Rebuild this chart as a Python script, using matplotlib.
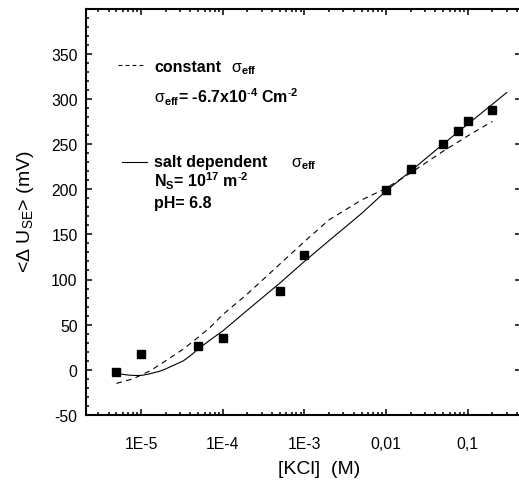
import numpy as np
import matplotlib
matplotlib.use("Agg")
import matplotlib.pyplot as plt
from matplotlib.lines import Line2D
from matplotlib.ticker import LogLocator, MultipleLocator, NullFormatter

# measured surface potential vs. salt concentration
conc = [5e-6, 1e-5, 5e-5, 1e-4, 5e-4, 1e-3, 1e-2, 2e-2, 5e-2, 7.5e-2, 1e-1, 2e-1]
du_se = [-2, 17, 26, 35, 87, 127, 199, 222, 250, 264, 275, 288]

# model: constant sigma_eff (dashed)
const_x = [5e-6, 8e-6, 1.3e-5, 2e-5, 3.3e-5, 5e-5, 7e-5, 1e-4, 2e-4, 5e-4, 1e-3,
           2e-3, 5e-3, 1e-2, 2e-2, 5e-2, 0.1, 0.2]
const_y = [-15, -10, -1, 10, 23, 36, 47, 61, 84, 117, 142,
           166, 188, 201, 218, 242, 259, 275]

# model: salt dependent sigma_eff (solid)
salt_x = [5e-6, 6e-6, 7e-6, 8.5e-6, 1e-5, 1.2e-5, 1.4e-5, 1.7e-5, 2e-5, 2.5e-5, 3.3e-5,
          4e-5, 5e-5, 7e-5, 1e-4, 2e-4, 5e-4, 1e-3, 2e-3, 5e-3, 1e-2, 2e-2, 5e-2,
          0.1, 0.2, 0.3]
salt_y = [-4, -5, -5.8, -6.3, -6.2, -5, -3.5, -1.5, 1, 5, 10,
          15.5, 23, 33, 43, 66, 96, 120, 143, 173, 198, 220, 250,
          272, 294, 307]

xtick_vals = [1e-5, 1e-4, 1e-3, 1e-2, 1e-1]
xtick_labels = ["1E-5", "1E-4", "1E-3", "0,01", "0,1"]
ytick_vals = list(range(-50, 351, 50))

plt.rcParams["font.family"] = ["Liberation Sans", "DejaVu Sans"]
plt.rcParams["axes.unicode_minus"] = False
plt.rcParams["mathtext.fontset"] = "custom"
plt.rcParams["mathtext.rm"] = "Liberation Sans"
plt.rcParams["mathtext.it"] = "Liberation Sans:italic"
plt.rcParams["mathtext.bf"] = "Liberation Sans:bold"

W, H = 519, 481


def px(x, y):
    # pixel position -> figure fraction
    return x / W, 1 - y / H


fig = plt.figure(figsize=(W / 100, H / 100), dpi=100)
ax = fig.add_axes([86 / W, 1 - 416 / H, (520.5 - 86) / W, (416 - 9.5) / H])

ax.plot(const_x, const_y, color="black", lw=0.8, dashes=(5, 4))
ax.plot(salt_x, salt_y, color="black", lw=0.8)
ax.plot(conc, du_se, "s", color="black", ms=6.2)

ax.set_xscale("log")
ax.set_xlim(2.12e-6, 0.442)
ax.set_ylim(-50, 400)

ax.set_xticks(xtick_vals)
ax.set_xticklabels(xtick_labels)
ax.xaxis.set_minor_locator(LogLocator(base=10, subs=np.arange(2, 10)))
ax.xaxis.set_minor_formatter(NullFormatter())
ax.set_yticks(ytick_vals)
ax.yaxis.set_minor_locator(MultipleLocator(10))

ax.tick_params(which="both", direction="in", top=True, width=1.1, labelsize=11.3)
ax.tick_params(which="major", length=4.5, right=True)
ax.tick_params(which="minor", length=2.3, right=False)
ax.tick_params(axis="x", pad=15)
ax.tick_params(axis="y", pad=6)
for s in ax.spines.values():
    s.set_linewidth(1.5)

# axis labels
fig.text(*px(25, 212), r"<$\Delta$ U$_{\mathrm{SE}}$> (mV)", rotation=90,
         ha="center", va="center", fontsize=14)
fig.text(*px(319, 470), "[KCl]  (M)", ha="center", va="center", fontsize=14)

# legend-like annotations
fs = 11.5
sig = r"$\mathrm{\sigma}_{\mathbf{eff}}$"
fig.add_artist(Line2D([118 / W, 143 / W], [1 - 66 / H] * 2, color="black",
                      lw=0.8, dashes=(3.5, 2.8)))
fig.text(*px(154, 72), "constant", fontweight="bold", fontsize=fs, va="baseline")
fig.text(*px(231, 72), sig, fontsize=fs, va="baseline")
fig.text(*px(154, 103),
         sig + r"= -6.7x10$^{\mathbf{\text{-}4}}$ Cm$^{\mathbf{\text{-}2}}$",
         fontweight="bold", fontsize=fs, va="baseline")

fig.add_artist(Line2D([122 / W, 147 / W], [1 - 163 / H] * 2, color="black", lw=0.8))
fig.text(*px(154, 167), "salt dependent", fontweight="bold", fontsize=fs, va="baseline")
fig.text(*px(291, 167), sig, fontsize=fs, va="baseline")
fig.text(*px(154, 187), r"N$_{\mathbf{S}}$= 10$^{\mathbf{17}}$ m$^{\mathbf{\text{-}2}}$",
         fontweight="bold", fontsize=fs, va="baseline")
fig.text(*px(154, 208), "pH= 6.8", fontweight="bold", fontsize=fs, va="baseline")

fig.savefig("out.png", dpi=100)
